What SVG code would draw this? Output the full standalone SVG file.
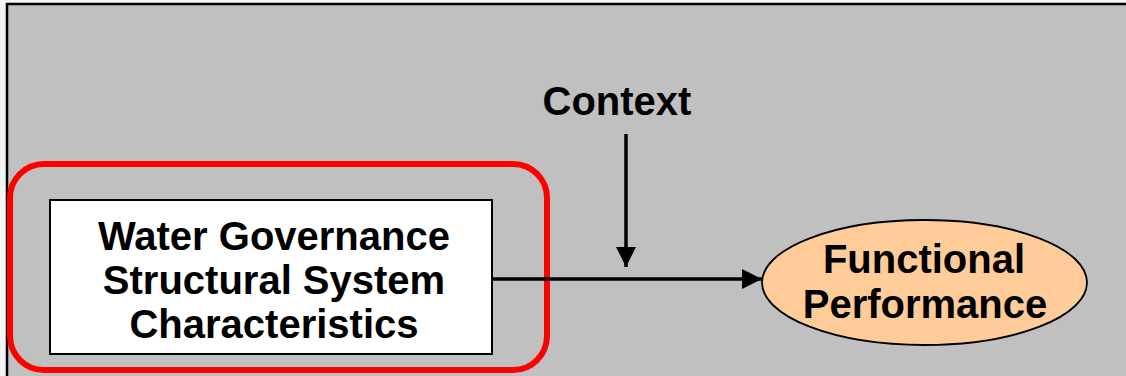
<svg xmlns="http://www.w3.org/2000/svg" width="1126" height="376" viewBox="0 0 1126 376">
  <style>
    .lbl { font-family: "Liberation Sans", Arial, sans-serif; font-weight: bold; font-size: 40px; fill: #000; text-anchor: middle; }
    .conn { stroke: #000; stroke-width: 3.5; fill: none; }
  </style>
  <defs>
    <marker id="arrow" viewBox="0 0 20 20" refX="20" refY="10" markerWidth="20" markerHeight="20" markerUnits="userSpaceOnUse" orient="auto">
      <path d="M0,0 L20,10 L0,20 Z" fill="#000"/>
    </marker>
  </defs>

  <!-- page backdrop and grey panel -->
  <rect x="0" y="0" width="1126" height="376" fill="#f3f5f7"/>
  <rect x="7" y="4" width="1130" height="380" fill="#c0c0c0" stroke="#000" stroke-width="2.5"/>

  <!-- highlight around the structural characteristics -->
  <g id="highlight">
    <rect x="10" y="164" width="537" height="206" rx="34" ry="34" fill="none" stroke="#ff0000" stroke-width="6"/>
  </g>

  <g id="structure">
    <rect x="50" y="200" width="442" height="154" fill="#fff" stroke="#000" stroke-width="2"/>
    <text class="lbl" x="274" y="250">Water Governance</text>
    <text class="lbl" x="274" y="294">Structural System</text>
    <text class="lbl" x="274" y="338">Characteristics</text>
  </g>

  <g id="context">
    <text class="lbl" x="617" y="115">Context</text>
  </g>

  <g id="performance">
    <ellipse cx="924.5" cy="282.5" rx="162.5" ry="62.5" fill="#ffcc99" stroke="#000" stroke-width="1.8"/>
    <text class="lbl" x="924" y="273">Functional</text>
    <text class="lbl" x="925" y="318">Performance</text>
  </g>

  <g id="connectors">
    <line class="conn" x1="492" y1="279" x2="762" y2="279" marker-end="url(#arrow)"/>
    <line class="conn" x1="626" y1="134" x2="626" y2="267" marker-end="url(#arrow)"/>
  </g>
</svg>
